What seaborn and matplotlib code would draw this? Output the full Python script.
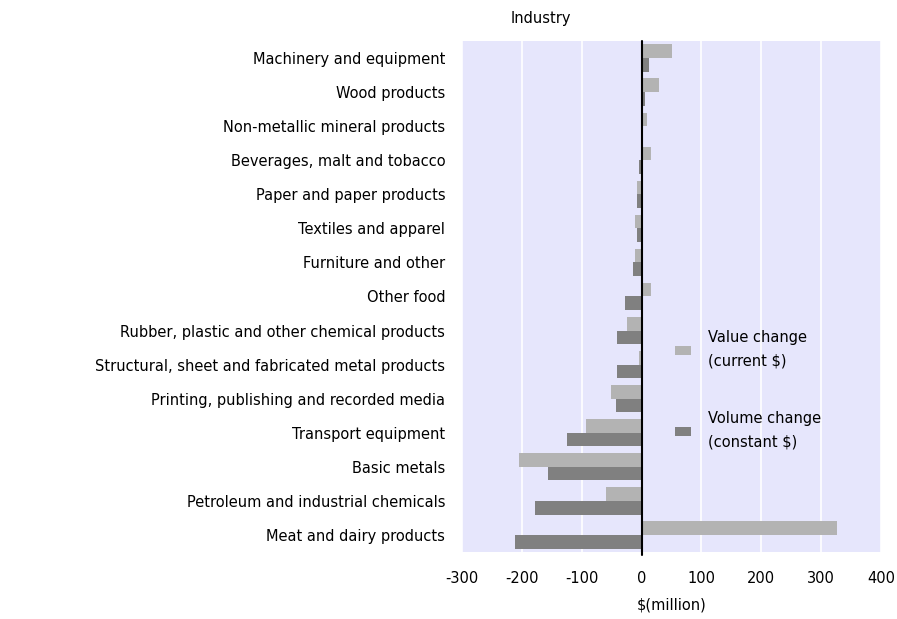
import matplotlib
matplotlib.use("Agg")
import matplotlib.pyplot as plt
import seaborn as sns
import pandas as pd

# Industries, top to bottom
industries = [
    "Machinery and equipment",
    "Wood products",
    "Non-metallic mineral products",
    "Beverages, malt and tobacco",
    "Paper and paper products",
    "Textiles and apparel",
    "Furniture and other",
    "Other food",
    "Rubber, plastic and other chemical products",
    "Structural, sheet and fabricated metal products",
    "Printing, publishing and recorded media",
    "Transport equipment",
    "Basic metals",
    "Petroleum and industrial chemicals",
    "Meat and dairy products",
]

# $(million)
value_change = [50, 29, 9, 16, -7, -11, -11, 16, -24, -4, -51, -93, -204, -60, 326]
volume_change = [12, 5, 1, -4, -7, -7, -14, -28, -41, -41, -43, -124, -157, -178, -211]

series_names = ["Value change\n(current $)", "Volume change\n(constant $)"]
colors = ["#b3b3b3", "#808080"]

df = pd.DataFrame({
    "Industry": industries * 2,
    "Change": value_change + volume_change,
    "Series": [series_names[0]] * len(industries) + [series_names[1]] * len(industries),
})

sns.set_style("white")
plt.rcParams["font.family"] = ["DejaVu Sans"]
plt.rcParams["text.color"] = "black"
plt.rcParams["axes.labelcolor"] = "black"
plt.rcParams["axes.unicode_minus"] = False

fig = plt.figure(figsize=(8.97, 6.19), dpi=100)
ax = fig.add_axes([462 / 897, 1 - 552 / 619, (881 - 462) / 897, (552 - 41) / 619])
ax.set_facecolor("#e6e6fc")

sns.barplot(data=df, x="Change", y="Industry", hue="Series", orient="h",
            palette=colors, width=0.8, saturation=1, linewidth=0, ax=ax, zorder=3)

ax.set_xlim(-300, 400)
ax.set_xticks(range(-300, 401, 100))
ax.grid(axis="x", color="white", linewidth=1.2, zorder=0)
ax.set_axisbelow(True)
ax.axvline(0, color="black", linewidth=1.5, zorder=4, ymin=-0.006, ymax=1, clip_on=False)

for s in ax.spines.values():
    s.set_visible(False)

ax.tick_params(axis="both", length=0, labelsize=10.5, colors="black")
ax.tick_params(axis="x", pad=14)
ax.tick_params(axis="y", pad=12)
ax.set_xlabel("$(million)", fontsize=10.5, labelpad=8)
ax.set_ylabel("")

fig.text(511 / 897, 1 - 18 / 619, "Industry", fontsize=10.5, va="center", ha="left")

leg = ax.legend(loc="center left", bbox_to_anchor=(0.476, 0.317), frameon=False,
                fontsize=10.5, handlelength=1.1, handleheight=0.6,
                labelspacing=2.9, handletextpad=1.2)
for t in leg.get_texts():
    t.set_linespacing(1.7)

fig.savefig("out.png", dpi=100)
